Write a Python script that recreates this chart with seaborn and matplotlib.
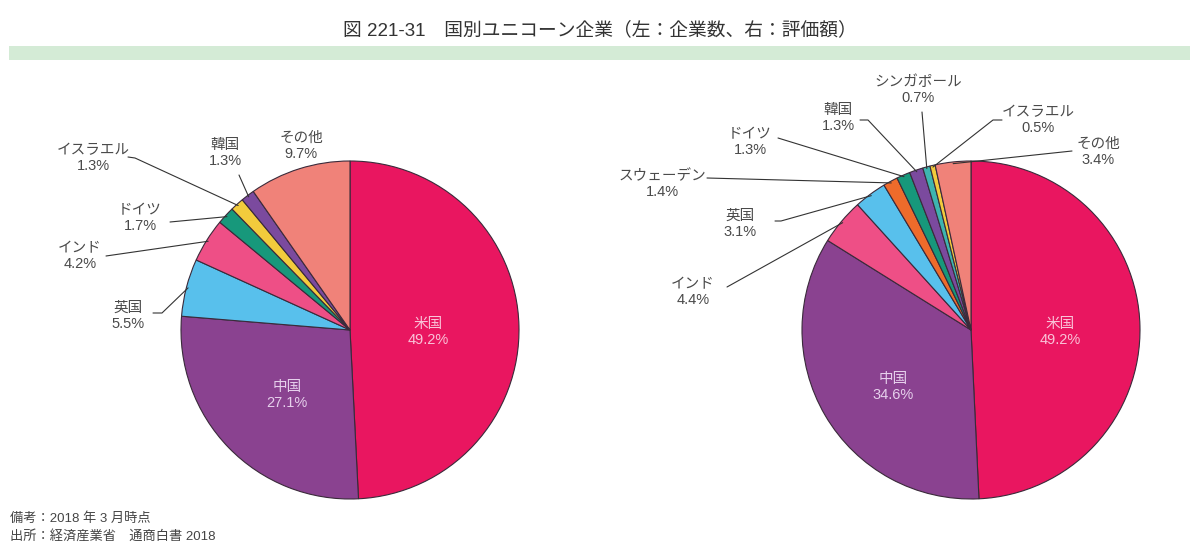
import numpy as np
import matplotlib
matplotlib.use("Agg")
import matplotlib.pyplot as plt
import seaborn as sns

# ---------------- data ----------------
left_countries = ["米国", "中国", "英国", "インド", "ドイツ", "イスラエル", "韓国", "その他"]
left_values = [49.2, 27.1, 5.5, 4.2, 1.7, 1.3, 1.3, 9.7]

right_countries = ["米国", "中国", "インド", "英国", "スウェーデン", "ドイツ", "韓国",
                   "シンガポール", "イスラエル", "その他"]
right_values = [49.2, 34.6, 4.4, 3.1, 1.4, 1.3, 1.3, 0.7, 0.5, 3.4]

country_colors = {
    "米国": "#E91660", "中国": "#8A4290", "英国": "#58C0EC", "インド": "#EE4F86",
    "ドイツ": "#17987B", "イスラエル": "#F2CB3C", "韓国": "#7B4A9E", "その他": "#F08279",
    "スウェーデン": "#EE6B2B", "シンガポール": "#3DB5B0",
}

title = "図 221-31　国別ユニコーン企業（左：企業数、右：評価額）"
notes = ["備考：2018 年 3 月時点", "出所：経済産業省　通商白書 2018"]

# ---------------- style ----------------
sns.set_theme(style="white")
plt.rcParams["font.family"] = ["Liberation Sans", "Noto Sans CJK JP", "DejaVu Sans"]

W, H = 1200, 555
fig = plt.figure(figsize=(W / 100, H / 100), dpi=100)
ax = fig.add_axes([0, 0, 1, 1])

TXT = "#4a4a4a"
R = 169

pies = [
    dict(countries=left_countries, values=left_values, center=(350, 330)),
    dict(countries=right_countries, values=right_values, center=(971, 330)),
]

inside = {
    0: {"米国": (428, 332, "#F9C3D8"), "中国": (287, 395, "#E6D0EC")},
    1: {"米国": (1060, 332, "#F9C3D8"), "中国": (893, 387, "#E6D0EC")},
}
outside = {
    0: {
        "英国": ((128, 316), (153, 313), (162, 313)),
        "インド": ((80, 256), (106, 256), None),
        "ドイツ": ((140, 218), (170, 222), None),
        "イスラエル": ((93, 158), (128, 157), (135, 158)),
        "韓国": ((225, 153), (239, 175), None),
        "その他": ((301, 146), None, None),
    },
    1: {
        "インド": ((693, 292), (727, 287), None),
        "英国": ((740, 224), (775, 221), (781, 221)),
        "スウェーデン": ((662, 184), (707, 178), None),
        "ドイツ": ((750, 142), (778, 138), None),
        "韓国": ((838, 118), (860, 120), (868, 120)),
        "シンガポール": ((918, 90), (922, 112), None),
        "イスラエル": ((1038, 120), (1002, 120), (993, 120)),
        "その他": ((1098, 152), (1072, 151), None),
    },
}

for i, p in enumerate(pies):
    cols = [country_colors[c] for c in p["countries"]]
    wedges, _ = ax.pie(
        p["values"], colors=cols, center=p["center"], radius=R,
        startangle=-90, counterclock=True,
        wedgeprops=dict(edgecolor="#3a2a3a", linewidth=0.8),
    )
    cx, cy = p["center"]
    for c, v, w in zip(p["countries"], p["values"], wedges):
        lab = f"{c}\n{v:.1f}%"
        if c in inside[i]:
            tx, ty, tc = inside[i][c]
            ax.text(tx, ty, lab, ha="center", va="center", fontsize=10.5,
                    color=tc, linespacing=1.2)
        elif c in outside[i]:
            (tx, ty), start, elbow = outside[i][c]
            ax.text(tx, ty, lab, ha="center", va="center", fontsize=10.5,
                    color=TXT, linespacing=1.2)
            if start is not None:
                th = np.deg2rad((w.theta1 + w.theta2) / 2)
                ex, ey = cx + 0.99 * R * np.cos(th), cy + 0.99 * R * np.sin(th)
                pts = [start] + ([elbow] if elbow else []) + [(ex, ey)]
                xs, ys = zip(*pts)
                ax.plot(xs, ys, color="#333333", lw=0.8)

ax.set_xlim(0, W)
ax.set_ylim(H, 0)
ax.set_axis_off()

ax.text(600, 30, title, ha="center", va="center", fontsize=13.5, color="#333333")
ax.add_patch(plt.Rectangle((9, 46), 1181, 14, facecolor="#D4EBD6", edgecolor="none"))

ax.text(10, 519, notes[0], ha="left", va="center", fontsize=9.5, color="#444444")
ax.text(10, 536, notes[1], ha="left", va="center", fontsize=9.5, color="#444444")

fig.savefig("out.png", dpi=100, facecolor="white")
